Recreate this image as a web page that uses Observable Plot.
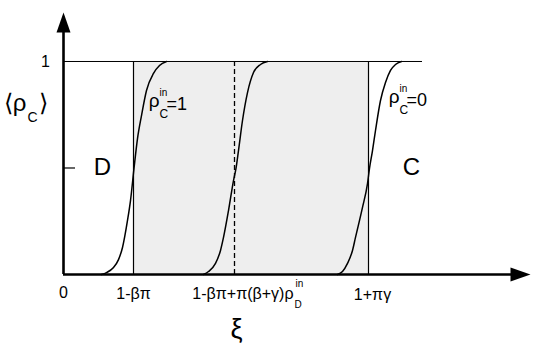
<!DOCTYPE html>
<html><head><meta charset="utf-8">
<script src="https://cdn.jsdelivr.net/npm/d3@7"></script>
<script src="https://cdn.jsdelivr.net/npm/@observablehq/plot@0.6"></script>
<style>body{margin:0;background:#fff} svg{display:block}</style>
</head><body><div id="chart"></div>
<script>
// ξ positions of the landmarks (schematic units)
const xMax = 4.67, yMax = 1.23;
const xTickValues = [0, 0.70, 1.71, 3.05];
const xTickLabels = ["0", "1-βπ", "1-βπ+π(β+γ)ρ", "1+πγ"];
const topLineEnd = 3.59;
const yTickValues = [0.5, 1];
const yTickLabels = ["", "1"];

// sigmoid profiles ⟨ρC⟩(ξ)
const curveInOne = [
  [0.38,0],[0.43,0.009],[0.50,0.033],[0.55,0.070],[0.59,0.127],[0.64,0.254],[0.67,0.347],
  [0.705,0.498],[0.74,0.638],[0.78,0.746],[0.83,0.864],[0.90,0.944],[0.96,0.981],[1.03,1.0]
];
const curveMiddle = [
  [1.40,0],[1.45,0.014],[1.52,0.052],[1.57,0.113],[1.60,0.174],[1.65,0.300],[1.70,0.441],
  [1.725,0.498],[1.75,0.582],[1.79,0.723],[1.84,0.854],[1.90,0.948],[1.97,0.986],[2.04,1.0]
];
const curveInZero = [
  [2.74,0],[2.79,0.014],[2.84,0.052],[2.89,0.113],[2.92,0.174],[2.99,0.315],[3.04,0.427],
  [3.06,0.498],[3.09,0.582],[3.12,0.676],[3.17,0.817],[3.22,0.901],[3.27,0.958],[3.32,0.986],[3.38,1.0]
];

const font = "'Liberation Sans', Arial, Helvetica, sans-serif";
const arrowUp = {draw(ctx){ ctx.moveTo(0,0); ctx.lineTo(7,20); ctx.lineTo(-7,20); ctx.closePath(); }};
const arrowRight = {draw(ctx){ ctx.moveTo(0,0); ctx.lineTo(-20,-7); ctx.lineTo(-20,7); ctx.closePath(); }};

const toPts = a => a.map(([xi, rho]) => ({xi, rho}));
const T = (text, x, y, o) => Plot.text([text], {x: () => x, y: () => y, text: d => d, lineAnchor: "bottom", fill: "black", ...o});

const chart = Plot.plot({
  width: 554, height: 348,
  marginLeft: 63, marginRight: 24, marginTop: 12, marginBottom: 74,
  x: {domain: [0, xMax], axis: null},
  y: {domain: [0, yMax], axis: null},
  style: {fontFamily: font, background: "white", overflow: "visible"},
  marks: [
    Plot.rect([{a: xTickValues[1], b: xTickValues[3]}], {x1: "a", x2: "b", y1: () => 0, y2: () => 1, fill: "#eeeeee"}),
    Plot.ruleY([1], {x1: 0, x2: topLineEnd, stroke: "black", strokeWidth: 1}),
    Plot.ruleX([xTickValues[1], xTickValues[3]], {y1: 0, y2: 1, stroke: "black", strokeWidth: 1.2}),
    Plot.ruleX([xTickValues[2]], {y1: 0, y2: 1, stroke: "black", strokeWidth: 1.3, strokeDasharray: "5,3"}),
    Plot.line(toPts(curveInOne), {x: "xi", y: "rho", curve: "monotone-x", stroke: "black", strokeWidth: 1.5}),
    Plot.line(toPts(curveMiddle), {x: "xi", y: "rho", curve: "monotone-x", stroke: "black", strokeWidth: 1.5}),
    Plot.line(toPts(curveInZero), {x: "xi", y: "rho", curve: "monotone-x", stroke: "black", strokeWidth: 1.5}),
    // axes
    Plot.ruleY([0], {x1: 0, x2: xMax - 0.1, stroke: "black", strokeWidth: 2.6}),
    Plot.ruleX([0], {y1: 0, y2: yMax - 0.05, stroke: "black", strokeWidth: 2.6}),
    Plot.dot([{xi: 0, rho: yMax}], {x: "xi", y: "rho", symbol: arrowUp, r: 5, fill: "black", stroke: "none"}),
    Plot.dot([{xi: xMax, rho: 0}], {x: "xi", y: "rho", symbol: arrowRight, r: 5, fill: "black", stroke: "none"}),
    Plot.ruleY([yTickValues[0]], {x1: 0, x2: 0.12, stroke: "black", strokeWidth: 1.2}),
    // y tick label
    T(yTickLabels[1], 0, 1, {dx: -18, dy: 6, fontSize: 16, textAnchor: "middle"}),
    // x tick labels
    T(xTickLabels[0], xTickValues[0], 0, {dy: 23, fontSize: 16, textAnchor: "middle"}),
    T(xTickLabels[1], xTickValues[1], 0, {dy: 24, fontSize: 16, textAnchor: "middle"}),
    T(xTickLabels[2], xTickValues[2], 0, {dx: 59, dy: 24, fontSize: 16, textAnchor: "end"}),
    T("in", xTickValues[2], 0, {dx: 61, dy: 12, fontSize: 10, textAnchor: "start"}),
    T("D", xTickValues[2], 0, {dx: 60, dy: 33, fontSize: 10, textAnchor: "start"}),
    T(xTickLabels[3], xTickValues[3], 0, {dx: 4, dy: 25, fontSize: 16, textAnchor: "middle"}),
    // axis titles
    T("ξ", 1.73, 0, {dy: 63, fontSize: 27, textAnchor: "middle"}),
    T("⟨ρ", 0, 1, {dx: -37, dy: 50, fontSize: 24, textAnchor: "end"}),
    T("C", 0, 1, {dx: -36, dy: 61, fontSize: 14, textAnchor: "start"}),
    T("⟩", 0, 1, {dx: -25, dy: 50, fontSize: 24, textAnchor: "start"}),
    // region labels
    T("D", 0.39, 0.5, {dy: 7, fontSize: 24, textAnchor: "middle"}),
    T("C", 3.48, 0.5, {dy: 7, fontSize: 24, textAnchor: "middle"}),
    // curve labels
    T("ρ", 0.96, 1, {dy: 46, fontSize: 19, textAnchor: "end"}),
    T("in", 0.96, 1, {dy: 35, fontSize: 10, textAnchor: "start"}),
    T("C", 0.96, 1, {dy: 57, fontSize: 12, textAnchor: "start"}),
    T("=1", 1.03, 1, {dy: 49, fontSize: 18, textAnchor: "start"}),
    T("ρ", 3.36, 1, {dy: 42, fontSize: 19, textAnchor: "end"}),
    T("in", 3.36, 1, {dy: 31, fontSize: 10, textAnchor: "start"}),
    T("C", 3.36, 1, {dy: 53, fontSize: 12, textAnchor: "start"}),
    T("=0", 3.43, 1, {dy: 45, fontSize: 18, textAnchor: "start"})
  ]
});
document.getElementById("chart").appendChild(chart);
</script>
</body></html>
